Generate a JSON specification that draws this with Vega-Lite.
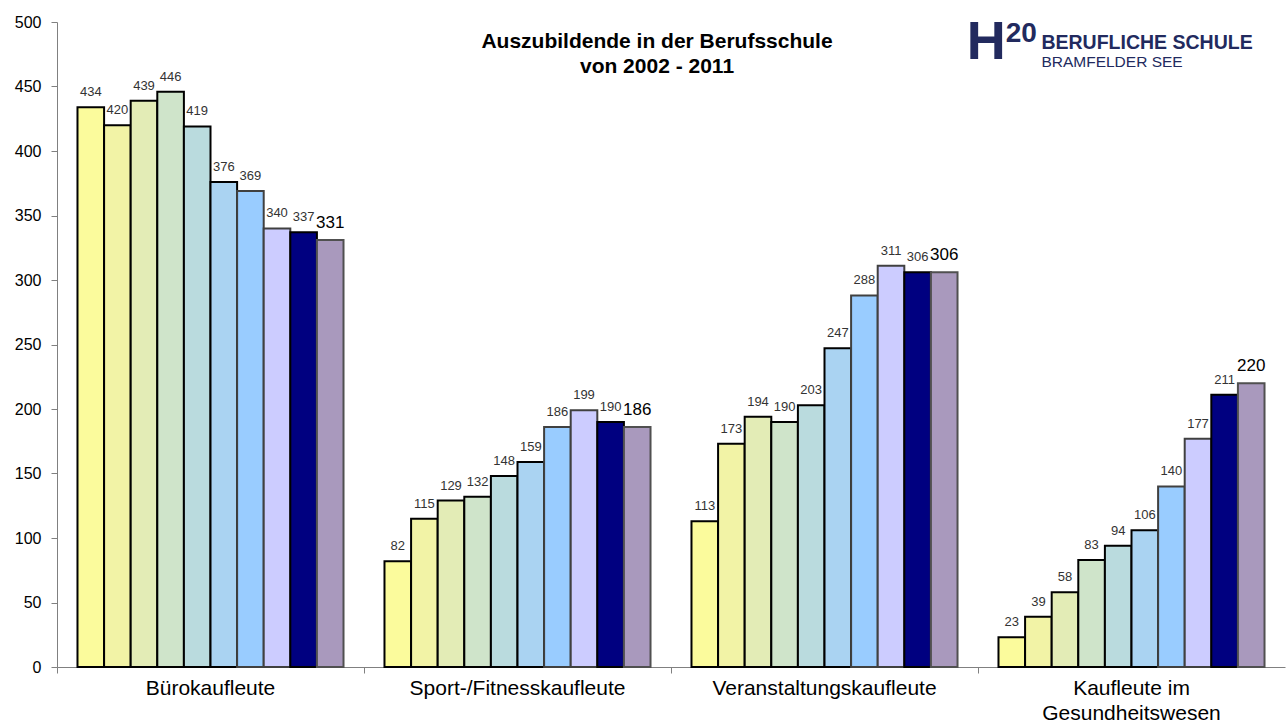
{
  "$schema": "https://vega.github.io/schema/vega-lite/v6.json",
  "width": 1228,
  "height": 645,
  "autosize": {"type": "none"},
  "padding": {"left": 57, "top": 22, "right": 2, "bottom": 59},
  "background": "white",
  "config": {
    "font": "Liberation Sans",
    "view": {"stroke": null},
    "axis": {"grid": false}
  },
  "title": {
    "text": ["Auszubildende in der Berufsschule", "von 2002 - 2011"],
    "fontSize": 21,
    "fontWeight": "bold",
    "color": "#000000",
    "anchor": "middle",
    "offset": -63,
    "dx": -14,
    "lineHeight": 25
  },
  "data": {
    "values": [
      {"category": "Bürokaufleute", "year": 2002, "value": 434},
      {"category": "Bürokaufleute", "year": 2003, "value": 420},
      {"category": "Bürokaufleute", "year": 2004, "value": 439},
      {"category": "Bürokaufleute", "year": 2005, "value": 446},
      {"category": "Bürokaufleute", "year": 2006, "value": 419},
      {"category": "Bürokaufleute", "year": 2007, "value": 376},
      {"category": "Bürokaufleute", "year": 2008, "value": 369},
      {"category": "Bürokaufleute", "year": 2009, "value": 340},
      {"category": "Bürokaufleute", "year": 2010, "value": 337},
      {"category": "Bürokaufleute", "year": 2011, "value": 331},
      {"category": "Sport-/Fitnesskaufleute", "year": 2002, "value": 82},
      {"category": "Sport-/Fitnesskaufleute", "year": 2003, "value": 115},
      {"category": "Sport-/Fitnesskaufleute", "year": 2004, "value": 129},
      {"category": "Sport-/Fitnesskaufleute", "year": 2005, "value": 132},
      {"category": "Sport-/Fitnesskaufleute", "year": 2006, "value": 148},
      {"category": "Sport-/Fitnesskaufleute", "year": 2007, "value": 159},
      {"category": "Sport-/Fitnesskaufleute", "year": 2008, "value": 186},
      {"category": "Sport-/Fitnesskaufleute", "year": 2009, "value": 199},
      {"category": "Sport-/Fitnesskaufleute", "year": 2010, "value": 190},
      {"category": "Sport-/Fitnesskaufleute", "year": 2011, "value": 186},
      {"category": "Veranstaltungskaufleute", "year": 2002, "value": 113},
      {"category": "Veranstaltungskaufleute", "year": 2003, "value": 173},
      {"category": "Veranstaltungskaufleute", "year": 2004, "value": 194},
      {"category": "Veranstaltungskaufleute", "year": 2005, "value": 190},
      {"category": "Veranstaltungskaufleute", "year": 2006, "value": 203},
      {"category": "Veranstaltungskaufleute", "year": 2007, "value": 247},
      {"category": "Veranstaltungskaufleute", "year": 2008, "value": 288},
      {"category": "Veranstaltungskaufleute", "year": 2009, "value": 311},
      {"category": "Veranstaltungskaufleute", "year": 2010, "value": 306},
      {"category": "Veranstaltungskaufleute", "year": 2011, "value": 306},
      {"category": "Kaufleute im Gesundheitswesen", "year": 2002, "value": 23},
      {"category": "Kaufleute im Gesundheitswesen", "year": 2003, "value": 39},
      {"category": "Kaufleute im Gesundheitswesen", "year": 2004, "value": 58},
      {"category": "Kaufleute im Gesundheitswesen", "year": 2005, "value": 83},
      {"category": "Kaufleute im Gesundheitswesen", "year": 2006, "value": 94},
      {"category": "Kaufleute im Gesundheitswesen", "year": 2007, "value": 106},
      {"category": "Kaufleute im Gesundheitswesen", "year": 2008, "value": 140},
      {"category": "Kaufleute im Gesundheitswesen", "year": 2009, "value": 177},
      {"category": "Kaufleute im Gesundheitswesen", "year": 2010, "value": 211},
      {"category": "Kaufleute im Gesundheitswesen", "year": 2011, "value": 220}
    ]
  },
  "encoding": {
    "x": {
      "field": "category",
      "type": "nominal",
      "sort": null,
      "scale": {"paddingInner": 0, "paddingOuter": 0},
      "axis": {
        "title": null,
        "labelAngle": 0,
        "labelFontSize": 21,
        "labelLimit": 0,
        "labelColor": "#000000",
        "labelLineHeight": 25,
        "labelPadding": 4,
        "labelBaseline": "top",
        "labelExpr": "datum.value == 'Kaufleute im Gesundheitswesen' ? ['Kaufleute im', 'Gesundheitswesen'] : datum.value",
        "bandPosition": 0,
        "tickSize": 6,
        "tickColor": "#808080",
        "domainColor": "#808080",
        "domainWidth": 1
      }
    },
    "xOffset": {
      "field": "year",
      "type": "nominal",
      "scale": {"paddingInner": 0, "paddingOuter": 0.77}
    }
  },
  "layer": [
    {
      "mark": {"type": "bar"},
      "encoding": {
        "y": {
          "field": "value",
          "type": "quantitative",
          "scale": {"domain": [0, 500], "nice": false},
          "axis": {
            "title": null,
            "values": [0, 50, 100, 150, 200, 250, 300, 350, 400, 450, 500],
            "labelFontSize": 16,
            "labelColor": "#000000",
            "labelPadding": 10,
            "tickSize": 6,
            "tickColor": "#808080",
            "domainColor": "#808080"
          }
        },
        "fill": {
          "field": "year",
          "type": "nominal",
          "legend": null,
          "scale": {
            "domain": [2002, 2003, 2004, 2005, 2006, 2007, 2008, 2009, 2010, 2011],
            "range": ["#FBFB9C", "#F2F3A6", "#E3ECB6", "#CFE4CA", "#BADBDE", "#AAD3F2", "#99CCFF", "#CCCCFF", "#000080", "#A999BD"]
          }
        },
        "stroke": {
          "field": "year",
          "type": "nominal",
          "legend": null,
          "scale": {
            "domain": [2002, 2003, 2004, 2005, 2006, 2007, 2008, 2009, 2010, 2011],
            "range": ["#000000", "#000000", "#000000", "#000000", "#000000", "#000000", "#404040", "#404040", "#000000", "#505050"]
          }
        },
        "strokeWidth": {
          "field": "year",
          "type": "nominal",
          "legend": null,
          "scale": {
            "domain": [2002, 2003, 2004, 2005, 2006, 2007, 2008, 2009, 2010, 2011],
            "range": [2, 2, 2, 2, 2, 2, 1, 1, 1, 1]
          }
        }
      }
    },
    {
      "mark": {"type": "text", "baseline": "bottom", "align": "center", "dy": -8},
      "encoding": {
        "y": {"field": "value", "type": "quantitative"},
        "text": {"field": "value", "type": "quantitative"},
        "size": {"condition": {"test": "datum.year == 2011", "value": 17}, "value": 13},
        "color": {"condition": {"test": "datum.year == 2011", "value": "#000000"}, "value": "#333333"}
      }
    },
    {
      "data": {"values": [{"logo": "BERUFLICHE SCHULE"}]},
      "mark": {"type": "text", "align": "left", "baseline": "middle", "fontSize": 19.5, "fontWeight": "bold", "color": "#222A5E", "dx": 3},
      "encoding": {
        "x": {"datum": "Kaufleute im Gesundheitswesen"},
        "xOffset": {"datum": 2003},
        "y": {"datum": 484},
        "text": {"field": "logo"}
      }
    },
    {
      "data": {"values": [{"logo": "BRAMFELDER SEE"}]},
      "mark": {"type": "text", "align": "left", "baseline": "middle", "fontSize": 15.5, "color": "#222A5E", "dx": 3},
      "encoding": {
        "x": {"datum": "Kaufleute im Gesundheitswesen"},
        "xOffset": {"datum": 2003},
        "y": {"datum": 469},
        "text": {"field": "logo"}
      }
    },
    {
      "data": {"values": [{"logo": "H"}]},
      "mark": {"type": "text", "align": "left", "baseline": "middle", "fontSize": 54, "fontWeight": "bold", "color": "#222A5E", "dx": -45},
      "encoding": {
        "x": {"datum": "Kaufleute im Gesundheitswesen"},
        "xOffset": {"datum": 2002},
        "y": {"datum": 484},
        "text": {"field": "logo"}
      }
    },
    {
      "data": {"values": [{"logo": "20"}]},
      "mark": {"type": "text", "align": "left", "baseline": "middle", "fontSize": 28, "fontWeight": "bold", "color": "#222A5E", "dx": -6},
      "encoding": {
        "x": {"datum": "Kaufleute im Gesundheitswesen"},
        "xOffset": {"datum": 2002},
        "y": {"datum": 491},
        "text": {"field": "logo"}
      }
    }
  ]
}
